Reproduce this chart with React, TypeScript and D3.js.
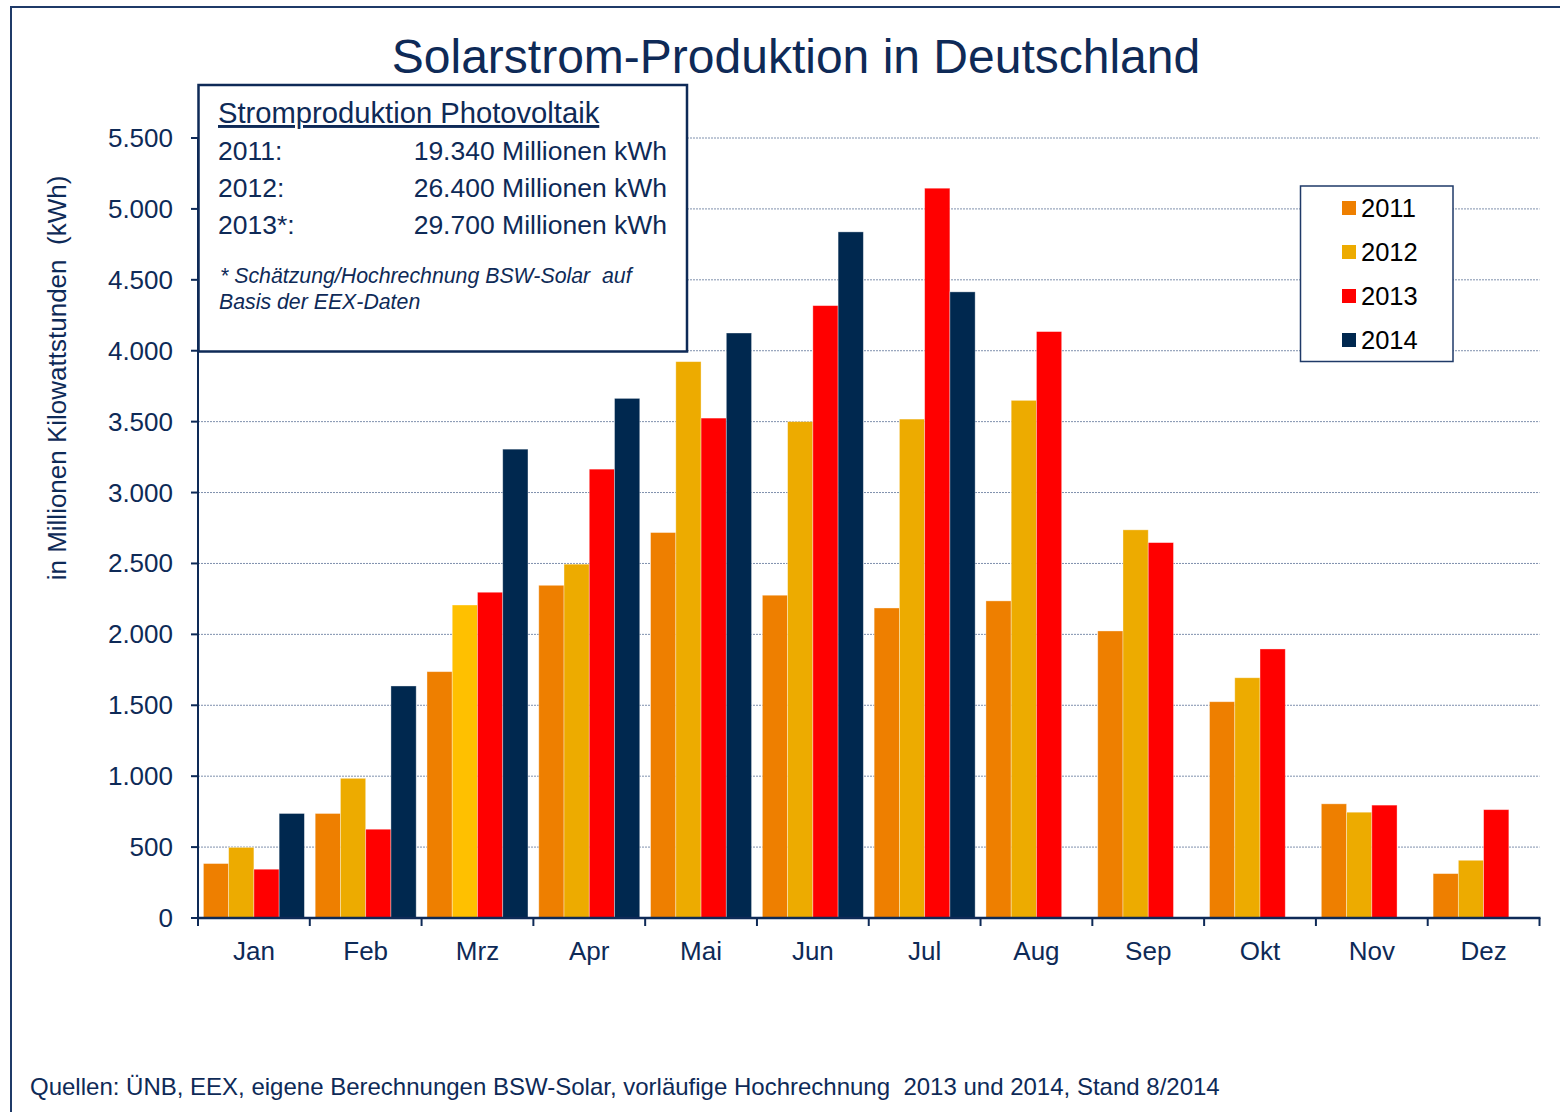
import React, { useEffect, useRef } from 'react';
import * as d3 from 'd3';

const months = ['Jan', 'Feb', 'Mrz', 'Apr', 'Mai', 'Jun', 'Jul', 'Aug', 'Sep', 'Okt', 'Nov', 'Dez'];
const years = ['2011', '2012', '2013', '2014'];
const values2011 = [384, 737, 1737, 2346, 2718, 2276, 2186, 2236, 2024, 1525, 805, 313];
const values2012 = [498, 985, 2207, 2495, 3923, 3500, 3518, 3650, 2737, 1694, 746, 407];
const values2013 = [344, 626, 2297, 3165, 3525, 4318, 5146, 4135, 2647, 1897, 796, 764];
const values2014 = [737, 1636, 3306, 3664, 4125, 4838, 4415, null, null, null, null, null];
const yTicks = [0, 500, 1000, 1500, 2000, 2500, 3000, 3500, 4000, 4500, 5000, 5500];
const totalLabels = ['2011:', '2012:', '2013*:'];
const totalValues = ['19.340 Millionen kWh', '26.400 Millionen kWh', '29.700 Millionen kWh'];

const colors = ['#EE7F00', '#EDAB00', '#FF0000', '#00284F'];
const navy = '#0E2A57';
const font = "'Liberation Sans', Arial, sans-serif";

const Chart = () => {
  const chartRef = useRef<SVGSVGElement>(null);

  useEffect(() => {
    drawChart();
  }, []);

  const drawChart = () => {
    const series = [values2011, values2012, values2013, values2014];
    const data = months.flatMap((month, i) =>
      years.map((year, j) => ({ month, year, value: series[j][i], j }))
    ).filter(d => d.value != null);

    const svg = d3.select(chartRef.current);
    svg.selectAll('*').remove();

    const left = 198;
    const right = 1539.5;
    const top = 138;
    const bottom = 918;

    const x0 = d3.scaleBand().domain(months).range([left, right]).padding(0);
    const x1 = d3
      .scaleBand()
      .domain(years)
      .range([5.4, x0.bandwidth() - 5.4])
      .padding(0);
    const y = d3.scaleLinear().domain([0, 5500]).range([bottom, top]);
    const fmt = d3.formatLocale({ decimal: ',', thousands: '.', grouping: [3], currency: ['', ''] }).format(',');

    // outer frame
    svg
      .append('path')
      .attr('d', `M11,1112V7H1560`)
      .attr('fill', 'none')
      .attr('stroke', '#1F3A68')
      .attr('stroke-width', 2);

    // title
    svg
      .append('text')
      .attr('x', 796)
      .attr('y', 73)
      .attr('text-anchor', 'middle')
      .attr('font-family', font)
      .attr('font-size', 48)
      .attr('fill', navy)
      .text('Solarstrom-Produktion in Deutschland');

    // gridlines
    svg
      .append('g')
      .selectAll('line')
      .data(yTicks.filter(t => t > 0))
      .enter()
      .append('line')
      .attr('x1', left)
      .attr('x2', right)
      .attr('y1', d => y(d))
      .attr('y2', d => y(d))
      .attr('stroke', '#7F90AD')
      .attr('stroke-width', 1)
      .attr('stroke-dasharray', '2,1');

    // bars
    svg
      .append('g')
      .selectAll('rect')
      .data(data)
      .enter()
      .append('rect')
      .attr('x', d => x0(d.month)! + x1(d.year)!)
      .attr('y', d => y(d.value as number))
      .attr('width', x1.bandwidth())
      .attr('height', d => bottom - y(d.value as number))
      .attr('fill', d => (d.month === 'Mrz' && d.year === '2012' ? '#FFC000' : colors[d.j]))
      .attr('stroke', 'rgba(255,255,255,0.45)')
      .attr('stroke-width', 0.8);

    // y axis
    const yAxis = svg.append('g');
    yAxis
      .append('line')
      .attr('x1', left)
      .attr('x2', left)
      .attr('y1', bottom)
      .attr('y2', top)
      .attr('stroke', navy)
      .attr('stroke-width', 2);
    yAxis
      .selectAll('line.tick')
      .data(yTicks)
      .enter()
      .append('line')
      .attr('class', 'tick')
      .attr('x1', left - 7)
      .attr('x2', left)
      .attr('y1', d => y(d))
      .attr('y2', d => y(d))
      .attr('stroke', navy)
      .attr('stroke-width', 2);
    yAxis
      .selectAll('text')
      .data(yTicks)
      .enter()
      .append('text')
      .attr('x', 173)
      .attr('y', d => y(d) + 9)
      .attr('text-anchor', 'end')
      .attr('font-family', font)
      .attr('font-size', 26)
      .attr('fill', navy)
      .text(d => fmt(d));

    svg
      .append('text')
      .attr('transform', `translate(66,378) rotate(-90)`)
      .attr('text-anchor', 'middle')
      .attr('font-family', font)
      .attr('font-size', 26)
      .attr('fill', navy)
      .attr('xml:space', 'preserve')
      .text('in Millionen Kilowattstunden  (kWh)');

    // x axis
    const xAxis = svg.append('g');
    xAxis
      .append('line')
      .attr('x1', left - 1)
      .attr('x2', right + 1)
      .attr('y1', bottom)
      .attr('y2', bottom)
      .attr('stroke', navy)
      .attr('stroke-width', 2.5);
    xAxis
      .selectAll('line.tick')
      .data([...months.map(m => x0(m)!), right])
      .enter()
      .append('line')
      .attr('class', 'tick')
      .attr('x1', d => d)
      .attr('x2', d => d)
      .attr('y1', bottom)
      .attr('y2', bottom + 8)
      .attr('stroke', navy)
      .attr('stroke-width', 2);
    xAxis
      .selectAll('text')
      .data(months)
      .enter()
      .append('text')
      .attr('x', d => x0(d)! + x0.bandwidth() / 2)
      .attr('y', 960)
      .attr('text-anchor', 'middle')
      .attr('font-family', font)
      .attr('font-size', 26)
      .attr('fill', navy)
      .text(d => d);

    // info box
    const info = svg.append('g');
    info
      .append('rect')
      .attr('x', 198.5)
      .attr('y', 85)
      .attr('width', 488.5)
      .attr('height', 266.5)
      .attr('fill', '#fff')
      .attr('stroke', navy)
      .attr('stroke-width', 2.5);
    info
      .append('text')
      .attr('x', 218)
      .attr('y', 123)
      .attr('font-family', font)
      .attr('font-size', 29.2)
      .attr('fill', navy)
      .attr('text-decoration', 'underline')
      .text('Stromproduktion Photovoltaik');
    totalLabels.forEach((label, i) => {
      info
        .append('text')
        .attr('x', 218)
        .attr('y', 160 + i * 37)
        .attr('font-family', font)
        .attr('font-size', 26.5)
        .attr('fill', navy)
        .text(label);
      info
        .append('text')
        .attr('x', 667)
        .attr('y', 160 + i * 37)
        .attr('text-anchor', 'end')
        .attr('font-family', font)
        .attr('font-size', 26.5)
        .attr('fill', navy)
        .text(totalValues[i]);
    });
    info
      .append('text')
      .attr('x', 220)
      .attr('y', 283)
      .attr('font-family', font)
      .attr('font-size', 21.3)
      .attr('font-style', 'italic')
      .attr('fill', navy)
      .attr('xml:space', 'preserve')
      .text('* Schätzung/Hochrechnung BSW-Solar  auf');
    info
      .append('text')
      .attr('x', 219)
      .attr('y', 309)
      .attr('font-family', font)
      .attr('font-size', 21.3)
      .attr('font-style', 'italic')
      .attr('fill', navy)
      .text('Basis der EEX-Daten');

    // legend
    const legend = svg.append('g');
    legend
      .append('rect')
      .attr('x', 1300.5)
      .attr('y', 186)
      .attr('width', 152.5)
      .attr('height', 175.5)
      .attr('fill', '#fff')
      .attr('stroke', '#1F3A68')
      .attr('stroke-width', 1.5);
    years.forEach((year, i) => {
      const cy = 208 + i * 44;
      legend
        .append('rect')
        .attr('x', 1342)
        .attr('y', cy - 7)
        .attr('width', 14)
        .attr('height', 14)
        .attr('fill', colors[i]);
      legend
        .append('text')
        .attr('x', 1361)
        .attr('y', cy + 9)
        .attr('font-family', font)
        .attr('font-size', 25.5)
        .attr('fill', '#000')
        .text(year);
    });

    // source
    svg
      .append('text')
      .attr('x', 30)
      .attr('y', 1095)
      .attr('font-family', font)
      .attr('font-size', 24)
      .attr('fill', navy)
      .attr('xml:space', 'preserve')
      .text('Quellen: ÜNB, EEX, eigene Berechnungen BSW-Solar, vorläufige Hochrechnung  2013 und 2014, Stand 8/2014');
  };

  return (
    <svg
      ref={chartRef}
      width={1560}
      height={1112}
      style={{ position: 'absolute', left: 0, top: 0, display: 'block', background: '#fff' }}
    ></svg>
  );
};

export default function App() {
  return <Chart />;
}
